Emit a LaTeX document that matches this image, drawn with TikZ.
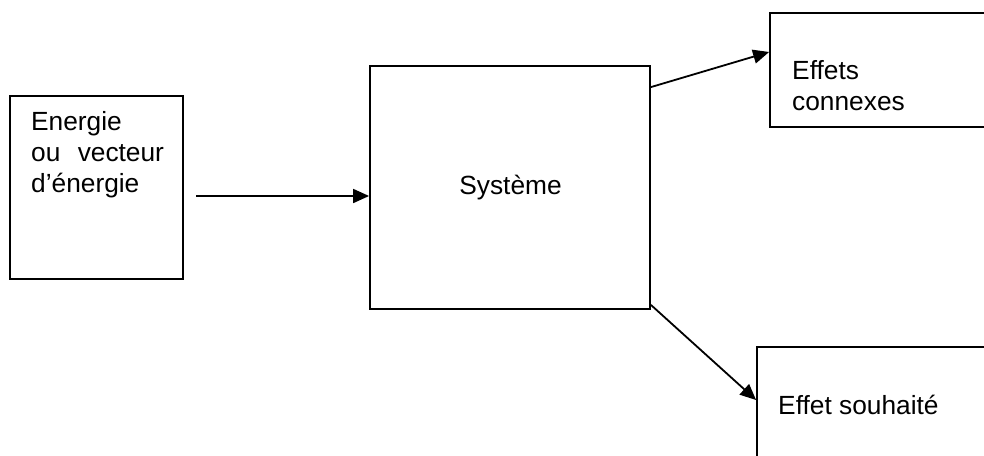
\documentclass[tikz,border=0pt]{standalone}
\usepackage{fontspec}
\setmainfont{Liberation Sans}
\usetikzlibrary{arrows.meta}
\begin{document}
\begin{tikzpicture}[x=1pt,y=-1pt,
  box/.style={draw=black,line width=1.8pt,rectangle,inner sep=0pt},
  txt/.style={anchor=base west,inner sep=0pt,font=\fontsize{26.3pt}{31pt}\selectfont},
  arr/.style={line width=1.8pt,-{Triangle[length=16pt,width=14pt]}}]
\clip (0,0) rectangle (984,455);
\fill[white] (0,0) rectangle (984,455);
% boxes
\node[box,minimum width=173pt,minimum height=183pt] (src) at (96.5,187.5) {};
\node[box,minimum width=280pt,minimum height=243pt] (sys) at (510,187.5) {};
\node[box,minimum width=240pt,minimum height=114pt] (conn) at (890,70) {};
\node[box,minimum width=243pt,minimum height=123pt] (souh) at (878.5,408.5) {};
% texts
\node[txt] (l1) at (31,130) {Energie};
\node[txt] (l2) at (31,161.5) {ou\hspace{10pt} vecteur};
\node[txt] (l3) at (31,192) {d’énergie};
\node[txt,anchor=base] (st) at (510.5,194) {Système};
\node[txt] (c1) at (792,79) {Effets};
\node[txt] (c2) at (792,110) {connexes};
\node[txt] (s1) at (778,414) {Effet souhaité};
% connectors
\coordinate (a1) at (196,196);
\draw[arr] (a1) -- (a1 -| sys.west);
\draw[arr] ([yshift=-22pt]sys.north east) -- ([yshift=18pt]conn.west);
\draw[arr] ([yshift=5pt]sys.south east) -- ([yshift=8.5pt]souh.west);
\end{tikzpicture}
\end{document}
